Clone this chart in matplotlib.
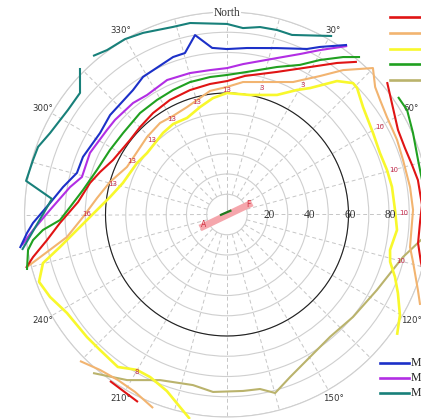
import numpy as np
import matplotlib
matplotlib.use("Agg")
import matplotlib.pyplot as plt
from matplotlib.lines import Line2D

# ---- horizon profiles: azimuth (deg, clockwise from North) and radial value ----
red_az = [255.1, 257.6, 261.9, 267.1, 274.8, 283.0, 288.5, 295.5, 307.5, 315.2, 323.9,
          333.5, 343.4, 352.6, 0.0, 7.4, 19.3, 29.4, 36.0, 40.4]
red_r = [102.7, 98.1, 89.8, 82.6, 73.8, 69.4, 66.1, 62.4, 60.4, 60.9, 62.0,
         63.2, 64.1, 65.0, 65.9, 69.0, 74.6, 83.6, 92.5, 99.0]
red_east_az = [50.4, 56.2, 63.7, 69.5, 75.0, 79.8, 87.2, 92.2, 98.5, 103.8, 109.5]
red_east_r = [102.6, 98.1, 94.2, 93.8, 94.6, 95.8, 96.4, 95.4, 95.4, 98.6, 104.2]
red_south_az = [215.1, 205.4]
red_south_r = [100.5, 102.5]

orange_az = [255.3, 258.7, 262.0, 269.0, 277.2, 285.5, 295.4, 302.9, 314.1, 323.8, 331.3,
             339.6, 347.0, 352.2, 0.0, 6.9, 26.5, 33.9, 38.8, 44.9, 49.3, 53.2, 58.6,
             66.3, 72.8, 81.5, 88.6, 100.1, 104.3, 111.6, 115.1]
orange_r = [102.1, 89.2, 79.8, 71.1, 64.7, 60.0, 54.7, 54.1, 55.0, 56.0, 55.5,
            56.6, 59.1, 61.6, 63.0, 65.9, 73.1, 82.4, 91.5, 102.1, 96.5, 94.4, 92.5,
            91.7, 91.0, 91.4, 91.9, 91.8, 94.8, 101.4, 105.3]
orange_south_az = [225.1, 219.2, 213.4, 207.4, 200.9]
orange_south_r = [102.5, 99.1, 97.9, 98.7, 102.3]

yellow_az = [190.3, 193.7, 198.8, 205.3, 210.1, 215.6, 223.1, 228.8, 238.4, 245.0, 250.3,
             255.2, 259.0, 264.1, 271.1, 278.5, 286.9, 299.8, 307.6, 321.9, 329.2, 337.5,
             345.9, 353.1, 0.0, 10.9, 22.7, 29.3, 33.3, 39.5, 43.8, 45.8, 51.7, 60.8,
             68.1, 74.5, 80.5, 88.5, 95.2, 102.3, 106.2, 110.4, 114.7, 120.2, 125.3]
yellow_r = [102.6, 97.9, 92.1, 88.8, 88.7, 92.6, 91.7, 91.9, 92.8, 96.4, 98.6,
            94.0, 84.0, 74.5, 65.2, 58.4, 53.7, 51.2, 49.8, 51.2, 52.0, 51.6,
            54.7, 57.9, 60.0, 60.1, 64.0, 70.5, 74.7, 85.4, 89.9, 89.6, 85.6, 82.6,
            81.4, 82.0, 82.6, 83.0, 84.3, 82.4, 83.9, 88.5, 92.9, 98.8, 102.9]

green_az = [254.5, 259.9, 262.5, 265.2, 268.1, 272.7, 279.7, 288.9, 298.9, 308.1, 319.4,
            328.6, 336.6, 344.4, 353.0, 0.0, 8.0, 18.7, 26.0, 31.0, 36.4, 40.2]
green_r = [102.5, 99.8, 96.6, 91.2, 82.5, 77.6, 72.1, 67.9, 66.0, 65.2, 66.0,
           66.3, 67.0, 67.9, 68.4, 68.9, 71.1, 76.9, 82.2, 89.0, 96.6, 101.8]
green_east_az = [55.5, 59.9, 66.3, 74.1, 81.4]
green_east_r = [102.5, 102.8, 100.3, 98.1, 97.9]

olive_az = [220.2, 211.1, 202.0, 191.3, 184.5, 174.8, 169.3, 164.9, 158.8, 151.2,
            139.9, 129.1, 116.7, 103.6, 97.5, 92.8]
olive_r = [102.5, 95.5, 88.2, 85.9, 87.9, 87.5, 87.7, 91.3, 86.1, 82.0,
           79.0, 80.2, 82.9, 89.4, 96.6, 105.3]

blue_az = [260.8, 264.7, 267.5, 273.7, 279.5, 285.5, 291.8, 302.7, 310.4, 322.9, 328.6,
           341.1, 345.4, 349.9, 354.9, 0.0, 6.8, 16.7, 25.8, 29.0, 35.3]
blue_r = [103.6, 99.2, 95.9, 87.6, 82.1, 76.9, 76.6, 74.5, 75.8, 77.0, 79.6,
          82.2, 82.4, 90.0, 82.6, 81.7, 82.8, 85.8, 90.8, 94.6, 102.6]

purple_az = [261.5, 265.4, 271.5, 279.9, 284.5, 294.2, 305.2, 310.2, 319.9, 326.2,
             336.0, 345.3, 353.3, 0.0, 6.1, 17.7, 24.5, 29.5, 35.5]
purple_r = [102.4, 96.1, 87.4, 78.7, 74.0, 74.2, 72.5, 72.4, 72.0, 71.0,
            72.7, 72.2, 71.8, 72.3, 74.7, 81.1, 87.1, 93.3, 102.2]

teal_west_az = [314.9, 309.6, 303.3, 294.7, 289.7, 285.7, 279.5, 275.1, 260.2]
teal_west_r = [102.5, 94.2, 94.0, 96.2, 99.1, 99.5, 100.6, 86.8, 102.7]
teal_north_az = [319.8, 323.9, 329.8, 335.2, 343.9, 349.1, 0.0, 4.9, 10.0, 15.2, 19.9, 30.5]
teal_north_r = [102.5, 100.5, 100.2, 98.8, 96.4, 96.3, 94.1, 92.4, 94.0, 94.4, 94.3, 102.3]

# A-F axis and the short segment near the centre
af_az = [243.4, 65.3]
af_r = [14.9, 13.6]
short_az = [263.9, 46.6]
short_r = [3.5, 3.0]
point_labels = ["A", "F"]
point_label_az = [245.5, 64.5]
point_label_r = [12.5, 12.0]

ring_value = 60

# hour marks along the profiles
hour_text = ["13", "3", "3", "13", "13", "13", "13", "13", "16", "10", "10", "10", "10", "8"]
hour_az = [0.0, 15.5, 30.4, 345.1, 330.1, 314.8, 299.4, 285.0, 270.2, 60.2, 75.1, 89.5, 105.0, 209.7]
hour_r = [61.5, 64.8, 74.2, 57.5, 54.4, 52.2, 53.8, 58.3, 69.1, 87.0, 85.3, 87.4, 88.9, 89.6]

angle_labels = ["30°", "60°", "120°", "150°", "210°", "240°", "300°", "330°"]
angle_label_az = [30, 60, 120, 150, 210, 240, 300, 330]
radial_ticks = [20, 40, 60, 80]
grid_rings = np.arange(10, 101, 10)
spoke_az = np.arange(0, 360, 15)

legend_bottom = ["M", "M", "M"]

C_RED = "#e01414"
C_ORANGE = "#f2b470"
C_YELLOW = "#f8f82c"
C_GREEN = "#20a020"
C_OLIVE = "#bab36c"
C_BLUE = "#1c30c8"
C_PURPLE = "#b22ee4"
C_TEAL = "#18807a"
C_PINK = "#f5a6ac"
C_LABEL = "#c4284a"

W, H = 421, 419
cx, cy, R = 227.0, 214.5, 202.5

fig = plt.figure(figsize=(W / 100, H / 100), dpi=100)
fig.patch.set_facecolor("white")
ax = fig.add_axes([(cx - R) / W, (H - cy - R) / H, 2 * R / W, 2 * R / H], projection="polar")
ax.set_theta_zero_location("N")
ax.set_theta_direction(-1)
ax.set_ylim(0, 100)
ax.set_xticks([])
ax.set_yticks(grid_rings)
ax.set_yticklabels([])
ax.tick_params(length=0, pad=0)
ax.xaxis.grid(False)
ax.yaxis.grid(True, color="#cfcfcf", lw=0.8, ls="-")
ax.spines["polar"].set_color("#cfcfcf")
ax.spines["polar"].set_linewidth(0.8)
ax.set_facecolor("white")

# dashed spokes from the first ring outward, solid stub to the centre at North
for a in spoke_az:
    ax.plot(np.deg2rad([a, a]), [10, 100], color="#c6c6c6", lw=0.7, ls=(0, (4, 3)), zorder=1)
ax.plot([0, 0], [0, 10], color="#c6c6c6", lw=0.8, zorder=1)


def draw(az, r, color, lw=1.5, z=3):
    ax.plot(np.deg2rad(az), r, color=color, lw=lw, zorder=z, clip_on=False,
            solid_joinstyle="round", solid_capstyle="butt")


# reference ring
ring_t = np.linspace(0, 2 * np.pi, 361)
ax.plot(ring_t, np.full_like(ring_t, ring_value), color="#202020", lw=0.8, zorder=2)

draw(olive_az, olive_r, C_OLIVE, 1.5, 3)
draw(yellow_az, yellow_r, C_YELLOW, 1.9, 3.1)
draw(orange_az, orange_r, C_ORANGE, 1.5, 3.2)
draw(orange_south_az, orange_south_r, C_ORANGE, 1.5, 3.2)
draw(red_az, red_r, C_RED, 1.5, 3.3)
draw(red_east_az, red_east_r, C_RED, 1.5, 3.3)
draw(red_south_az, red_south_r, C_RED, 1.5, 3.3)
draw(green_az, green_r, C_GREEN, 1.5, 3.4)
draw(green_east_az, green_east_r, C_GREEN, 1.5, 3.4)
draw(purple_az, purple_r, C_PURPLE, 1.5, 3.5)
draw(blue_az, blue_r, C_BLUE, 1.5, 3.6)
draw(teal_west_az, teal_west_r, C_TEAL, 1.5, 3.7)
draw(teal_north_az, teal_north_r, C_TEAL, 1.5, 3.7)

draw(af_az, af_r, C_PINK, 5.0, 4)
draw(short_az, short_r, "#1e7a1e", 1.6, 4.1)
for t, a, r in zip(point_labels, point_label_az, point_label_r):
    ax.text(np.deg2rad(a), r, t, color="#d03040", fontsize=5.5, ha="center", va="center", zorder=5)

for t, a, r in zip(hour_text, hour_az, hour_r):
    ax.text(np.deg2rad(a), r, t, color=C_LABEL, fontsize=5.0, ha="center", va="center",
            zorder=6, clip_on=False)

# angular labels
for t, a in zip(angle_labels, angle_label_az):
    ax.text(np.deg2rad(a), 105, t, fontsize=6.2, color="#333333", ha="center", va="center",
            clip_on=False, family="DejaVu Sans")
ax.text(0, 99.5, "North", fontsize=8.3, color="#333333", ha="center", va="center",
        family="Liberation Serif", clip_on=False, zorder=6,
        bbox=dict(facecolor="white", edgecolor="none", pad=0.3))

# radial labels along the East axis
for v in radial_ticks:
    ax.text(np.deg2rad(90), v + 0.8, str(v), fontsize=8.3, color="#333333", ha="center",
            va="center", family="Liberation Serif", zorder=6)

# legends (running past the right edge)
top_colors = [C_RED, C_ORANGE, C_YELLOW, C_GREEN, C_OLIVE]
top_y = [17, 33, 49, 64.5, 80]
for c, y in zip(top_colors, top_y):
    fig.add_artist(Line2D([390 / W, 440 / W], [1 - y / H, 1 - y / H], color=c, lw=1.9))

bottom_colors = [C_BLUE, C_PURPLE, C_TEAL]
bottom_y = [363, 378, 393]
for c, y, lab in zip(bottom_colors, bottom_y, legend_bottom):
    fig.add_artist(Line2D([380 / W, 409 / W], [1 - y / H, 1 - y / H], color=c, lw=1.9))
    fig.text(411 / W, 1 - y / H, lab, fontsize=8.5, family="Liberation Serif", va="center",
             color="#222222")

fig.savefig("out.png", dpi=100, facecolor="white")
